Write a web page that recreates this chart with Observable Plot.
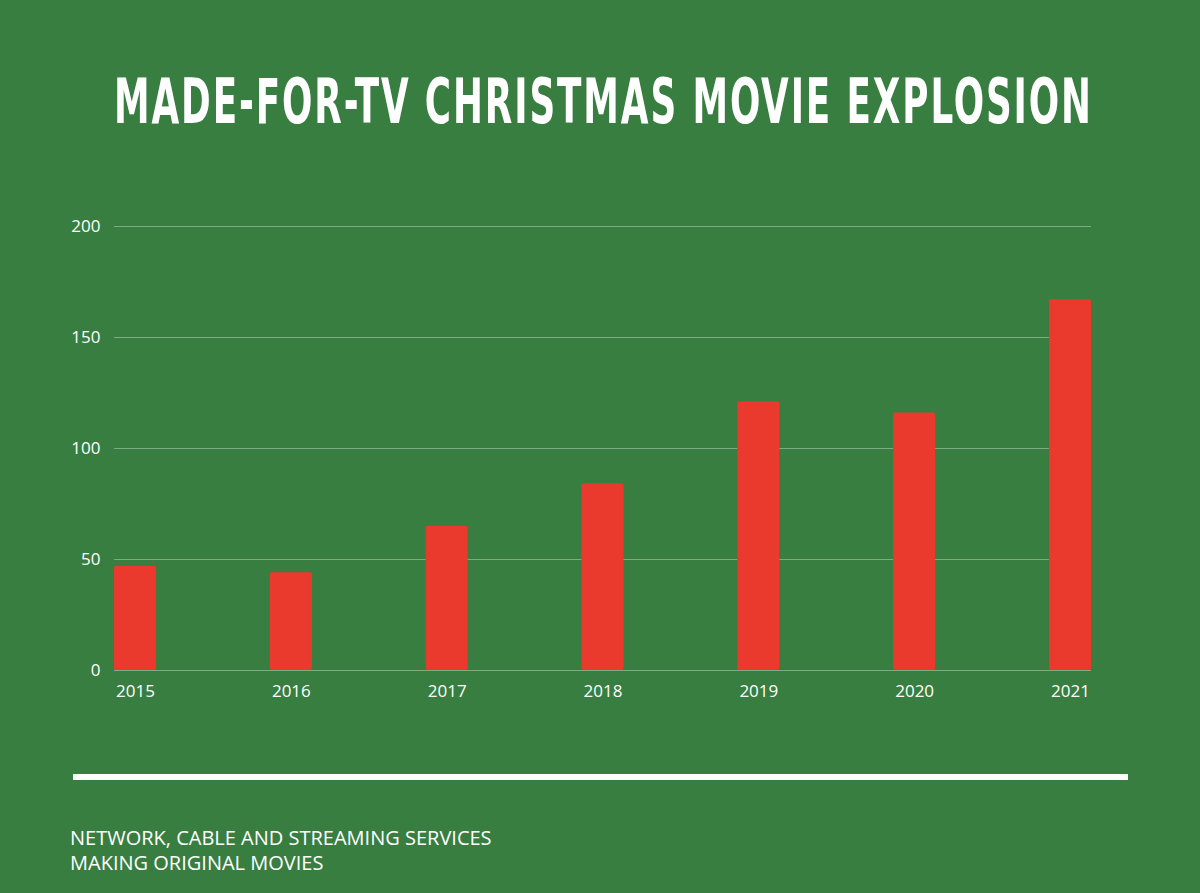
<!DOCTYPE html>
<html>
<head>
<meta charset="utf-8">
<script src="https://cdn.jsdelivr.net/npm/d3@7"></script>
<script src="https://cdn.jsdelivr.net/npm/@observablehq/plot@0.6"></script>
<style>
  html, body { margin: 0; padding: 0; }
  body { width: 1200px; height: 893px; background: #387e40; position: relative; overflow: hidden; font-family: "Open Sans", sans-serif; color: #fff; }
  #title { position: absolute; left: 114px; top: 70px; font-family: "DejaVu Sans Condensed", "DejaVu Sans", sans-serif; font-weight: bold; font-size: 63px; line-height: 63px; letter-spacing: 3px; white-space: nowrap; transform-origin: 0 0; color: #fff; margin: 0; }
  #chart { position: absolute; left: 0; top: 190px; }
  #rule { position: absolute; left: 73px; top: 774px; width: 1055px; height: 6px; background: #fff; }
  #caption { position: absolute; left: 70px; top: 825px; font-size: 20px; line-height: 25px; color: #fff; }
</style>
</head>
<body>
<h1 id="title">MADE-FOR-TV CHRISTMAS MOVIE EXPLOSION</h1>
<div id="chart"></div>
<div id="rule"></div>
<div id="caption">NETWORK, CABLE AND STREAMING SERVICES<br>MAKING ORIGINAL MOVIES</div>
<script>
const years = ["2015", "2016", "2017", "2018", "2019", "2020", "2021"];
const movies = [47, 44, 65, 84, 121, 116, 167];
const yTicks = [0, 50, 100, 150, 200];

const data = years.map((y, i) => ({year: y, count: movies[i]}));

const plot = Plot.plot({
  width: 1200,
  height: 530,
  marginLeft: 114,
  marginRight: 109,
  marginTop: 36,
  marginBottom: 50,
  style: {background: "transparent", color: "#fff", fontFamily: "'Open Sans', sans-serif", fontSize: "17px"},
  x: {domain: years, paddingInner: 0.73, paddingOuter: 0, round: false, label: null, tickSize: 0, tickPadding: 14},
  y: {domain: [0, 200], ticks: yTicks, label: null, tickSize: 0, tickPadding: 14},
  marks: [
    Plot.ruleY(yTicks, {stroke: "#ffffff", strokeOpacity: 0.35, strokeWidth: 1}),
    Plot.barY(data, {x: "year", y: "count", fill: "#e93a2d", rx: 2})
  ]
});
document.getElementById("chart").appendChild(plot);

const t = document.getElementById("title");
const w = t.getBoundingClientRect().width - 3;
t.style.transform = `scaleX(${977 / w})`;
</script>
</body>
</html>
